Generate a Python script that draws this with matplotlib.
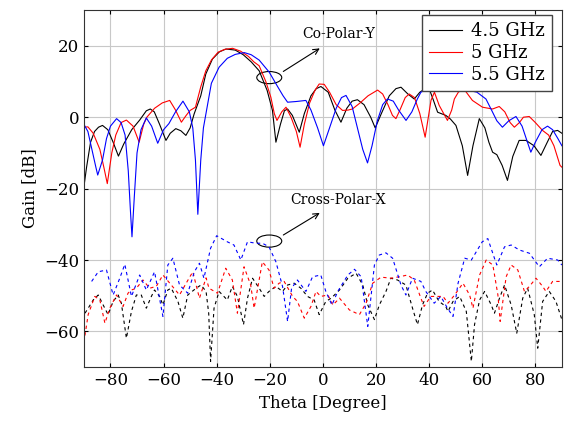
import matplotlib.pyplot as plt
from matplotlib.patches import Ellipse

# co-polar (solid) curves
theta_co_45 = [-90, -89, -87.5, -86, -84.5, -83, -81, -79, -77, -75, -72, -69, -66.5, -65, -63.5,
               -61.5, -59.1, -57.5, -55.4, -53.5, -51.6, -50, -48.5, -46, -44.1, -41.6, -39, -36.5,
               -33, -30, -27, -24, -21, -19, -17.7, -16, -14.5, -13.3, -11.5, -8.9, -7, -4.5, -2.5,
               -0.75, 2, 4.5, 6.8, 9, 11, 13, 15.5, 18, 19.7, 22, 25, 27.5, 29.4, 32, 34.4, 36.5,
               38.5, 40, 41.5, 43.2, 46.3, 48, 50.1, 52.5, 54.5, 56.5, 58.9, 61, 62.5, 63.9, 65.5,
               67.5, 69.5, 71.5, 73.9, 76.5, 79.5, 82.1, 84.5, 86.5, 88.4, 90]
gain_co_45 = [-19.5, -14, -7, -4, -2.8, -2.3, -3.5, -7, -10.9, -7.5, -3.5, -0.8, 1.8, 2.3, 1.5,
              -2, -6.5, -4.5, -3.2, -3.8, -5.1, -3, 0.9, 6, 12.1, 16.3, 18.3, 19.1,
              18.8, 17.5, 15.5, 13, 7.5, 1.9, -7.0, -2, 1.8, 2.3, 0.5, -4.2, 1, 6, 8,
              8.6, 7, 2, -1.4, 2.5, 4.5, 4.9, 3.5, 0, -3.0, 1, 6, 8, 8.4, 6.5, 5.1, 7,
              8, 8, 5, 1.4, 0.5, -0.5, -2.3, -8, -16.3, -8, -0.4, -3, -7, -9.8, -10.5,
              -13.5, -17.7, -11, -6.5, -6.5, -8, -10.7, -7, -4, -3.7, -4.5]

theta_co_5 = [-90, -88.5, -86.5, -84, -82.5, -81.2, -79.5, -78, -76, -74, -71.5, -69.2, -67.5,
              -66.3, -63.4, -60.5, -57.7, -55.5, -53.3, -51.5, -50, -48, -46, -44.1, -42, -39.5,
              -37, -34, -31, -28, -26, -24, -21.5, -19.6, -18.3, -17.3, -15.5, -13.9, -12, -10,
              -8.6, -7, -5, -3, -1.4, 0.5, 2.5, 5, 7.4, 9.5, 11.1, 14, 17, 20.6, 22.5, 24.5,
              26.2, 27.5, 29, 31, 32.5, 34.5, 36.5, 38.5, 39.7, 40.7, 42, 43.8, 46.9, 48.5,
              49.5, 51, 53, 56.3, 60.1, 63.9, 66.4, 68.5, 70.5, 72.1, 74, 75.5, 77.7, 80, 82.7,
              85, 87, 89.3, 90]
gain_co_5 = [-2.8, -2.7, -4.5, -9, -14, -18.6, -10, -5, -1.5, -0.8, -2.5, -7.0, -2,
             0, 2.5, 4, 4.7, 2, -1.4, 0.5, 1.9, 2.8, 8.5, 13.0, 16, 18.2,
             19, 19.3, 18.5, 17, 15.5, 14.4, 10, 5.6, 1, -0.9, 1.5, 2.8, 0, -4,
             -8.4, -2, 4, 7.5, 9.3, 9.2, 7, 3.5, 1.9, 2, 2.3, 4, 6, 7.6, 6.5, 3.5,
             0.5, -0.4, 2, 5.5, 6.5, 5.5, 1, -5.6, 0, 4.7, 7, 3.3, -0.9, 2,
             5.1, 7, 8, 4.7, 2.8, 2.3, 3.0, 1.5, -1.5, -2.8, -1.5, 0, 0.2, -1.5, -3.7,
             -5, -8, -13.5, -14]

theta_co_55 = [-90, -88.5, -87, -85.5, -84.8, -83, -81.5, -80, -77.7, -76, -74.5, -73.3, -72.5,
               -71.9, -71, -70, -68.5, -66.5, -64.5, -62.2, -60, -58, -55.5, -52.7, -50.3, -49,
               -48, -47.1, -46, -45, -43.8, -42, -39.1, -36, -33, -29.6, -27, -24, -20.2, -17,
               -15, -13.3, -10, -6.4, -4.5, -2, 0.2, 2.5, 5, 7, 8.7, 11, 13, 15, 16.8, 18.5,
               20.5, 22.5, 24.3, 26.5, 28.5, 31.3, 33.5, 35.5, 36.9, 40, 45, 50, 55, 58, 61.4,
               63.5, 65.5, 67.6, 70, 72.7, 75, 76.8, 78.3, 80, 82.5, 84.6, 86.5, 88.5, 90]
gain_co_55 = [-2.0, -4, -9, -14, -16.2, -12, -6, -2.5, -0.4, -1.5, -5, -15, -26,
              -33.5, -22, -10, -3.5, -0.2, -2.5, -7.3, -3.5, -1.8, 1.5, 4.5, 1.5, -3,
              -12, -27.2, -12, -3, 2, 9.5, 14, 16.5, 17.6, 18.1, 17.5, 16, 12.6, 8.5,
              6, 4.2, 4.4, 4.7, 2, -3, -8.0, -3, 2.5, 5.5, 6.1, 3, -3, -9, -12.8, -8,
              -1, 3.5, 5.1, 4.5, 2, -0.9, 1.5, 5, 7.0, 8, 8, 8, 7.5, 7, 5.1,
              2, -1, -2.8, -1, 0.2, -2.5, -6.5, -9.8, -7, -3.5, -2.5, -3.5, -6, -8]

# cross-polar (dashed) curves
theta_x_45 = [-89.6, -88.4, -86.5, -84.6, -82.75, -80.9, -79, -77.1, -75.9, -74, -72.1, -70.25,
              -68.4, -66.5, -64.6, -63.4, -61.5, -60.25, -58.4, -57.1, -54.6, -52.75, -50.9,
              -47.75, -45.9, -44, -43, -42.3, -41, -39.1, -36, -34.1, -32.2, -29.9, -28.4,
              -26.5, -24, -22.1, -20.3, -17.7, -15.2, -13.3, -10.8, -8.3, -5.8, -3.3, -1.4,
              1.1, 3.1, 6.25, 9.4, 12.5, 15, 16.9, 19.4, 21.25, 23.75, 25.6, 28.1, 31.25,
              33.75, 35.6, 37.5, 39.4, 41.25, 43.75, 46.25, 47.1, 49, 51.5, 54, 55.9, 57.1,
              59, 60.9, 63.4, 64.6, 66.5, 68.4, 70.9, 73, 75.25, 77.1, 79.6, 80.9, 82.75,
              85.25, 87.75, 90]
gain_x_45 = [-54.9, -53.5, -51.2, -49.8, -52.6, -55.3, -51.6, -49.8, -52.1, -61.9, -54.4, -49.8,
             -49.8, -53.5, -50.2, -48.4, -50.2, -52.6, -48.4, -47.9, -51.6, -56.3, -49.8,
             -47.9, -47, -48.8, -55, -68.4, -53.5, -48.8, -51.2, -47.4, -50.2, -58.1, -50.7,
             -45.1, -47.9, -50.2, -48.8, -47.4, -48.8, -47, -46.5, -47.9, -50.2, -51.2, -55.3,
             -51.6, -50.7, -48.4, -45.1, -43.7, -47, -52.6, -56.7, -52.6, -48.8, -45.1, -45.6,
             -47, -53.5, -58.1, -52.6, -49.3, -48.4, -51.6, -53, -54.4, -51.6, -50.2, -54.4,
             -68.4, -58.1, -51.2, -48.8, -52.6, -54.9, -50.7, -47, -52.6, -60.5, -50.7, -47.9,
             -55.3, -64.7, -51.6, -48.8, -51.6, -56.7]

theta_x_5 = [-90, -88.4, -85.9, -84, -82.1, -80.25, -77.75, -75.25, -73.4, -72.1, -70.25,
             -67.75, -65.25, -62.75, -60.25, -57.1, -54, -51.5, -49, -46.5, -44, -42.9, -39.7,
             -36.6, -34.1, -32.2, -29.7, -27.2, -25.9, -22.8, -20.3, -18.4, -16.5, -14.6,
             -11.4, -9.6, -7, -4.5, -2.6, -0.8, 1.9, 3.75, 6.25, 10, 13.75, 16.25, 18.75,
             21.9, 25.6, 28.75, 31.9, 34.4, 36.9, 38.1, 40.6, 43.75, 45.25, 47.1, 49.6, 52.75,
             55.25, 56.5, 59, 61.5, 64, 65.9, 66.75, 69, 70.9, 73.4, 75.9, 77.75, 80.25,
             82.75, 84, 86.5, 90]
gain_x_5 = [-63, -55.3, -50.2, -51.2, -57.7, -53.5, -49.8, -53, -49.3, -48.4, -47.9,
            -45.6, -47.9, -47.4, -44.2, -47, -49.8, -46.5, -43.3, -50.7, -45, -47.9, -49.3,
            -42.3, -45.6, -54.9, -41.9, -47, -53.5, -40.5, -42.8, -47.9, -46.5, -46,
            -50.2, -51.6, -56.3, -53, -48.8, -50.2, -49.8, -52.6, -50.7, -54, -55.3, -52.1,
            -46.5, -44.8, -45.1, -44.7, -44.2, -45.6, -50.7, -53, -50.2, -50.2, -50.2, -52.1,
            -49.8, -46.5, -49.8, -53.5, -44.2, -40, -41.4, -49.8, -57.2, -44.7, -41.4, -42.8,
            -48.8, -47.4, -45.1, -47.4, -48.8, -46, -46]

theta_x_55 = [-87.1, -84.6, -81.5, -79, -76.5, -74.6, -72.1, -69, -66.5, -63.4, -60.25, -58.4,
              -56.5, -54, -50.9, -48.4, -46.5, -44.8, -42.3, -40, -36, -33.5, -30.9, -28.4,
              -25.3, -22.8, -20.3, -17.7, -15.2, -13.3, -11.8, -9.6, -6.4, -3.9, -0.8, 1.1,
              3.4, 5.6, 9.4, 11.9, 14.4, 16.9, 19.4, 21.25, 23.75, 26.25, 29.4, 31.25, 33.75,
              36.9, 38.75, 41.9, 44.4, 46.9, 49, 50.9, 53.4, 55.9, 57.75, 60, 62.1, 64.6, 65.5,
              68.4, 70.9, 74, 77.75, 81.5, 84.6, 88.4, 90]
gain_x_55 = [-46.0, -43.3, -42.8, -49.8, -45.1, -41.2, -50.2, -44.2, -48.4, -43.3, -55.8, -41.4,
             -39.5, -47, -49.3, -43.3, -40.9, -45.1, -36.7, -33.2, -34.9, -35.8, -40, -34.9,
             -35.3, -35.3, -36.3, -40.5, -47.4, -57.2, -47.9, -45.6, -48.8, -44.7, -44.2, -48.8,
             -52.6, -48.8, -44.2, -42.6, -44.7, -58.6, -41.4, -38.6, -38, -39.5, -47, -49.8,
             -45.1, -46, -48.8, -52.1, -50.2, -53.5, -55.8, -46.5, -39.5, -40, -37.7, -34.9,
             -34, -39.5, -41.4, -36.3, -35.8, -37.2, -38.1, -41.9, -39.5, -40, -41.4]

labels = ['4.5 GHz', '5 GHz', '5.5 GHz']
colors = ['black', 'red', 'blue']

plt.rcParams['font.family'] = 'DejaVu Serif'

fig = plt.figure(figsize=(5.67, 4.21), dpi=100)
ax = fig.add_axes([0.148, 0.128, 0.843, 0.848])

co = [(theta_co_45, gain_co_45), (theta_co_5, gain_co_5), (theta_co_55, gain_co_55)]
cx = [(theta_x_45, gain_x_45), (theta_x_5, gain_x_5), (theta_x_55, gain_x_55)]
for (t, g), lab, c in zip(co, labels, colors):
    ax.plot(t, g, color=c, linewidth=0.8, label=lab)
for (t, g), c in zip(cx, colors):
    ax.plot(t, g, color=c, linewidth=0.8, dashes=(3, 3))

# annotations
ax.add_patch(Ellipse((-20.2, 11.1), 9.4, 3.4, fill=False, edgecolor='black', linewidth=0.8))
ax.annotate('', xy=(-0.3, 19.7), xytext=(-15.8, 12.4),
            arrowprops=dict(arrowstyle='->', color='black', linewidth=0.8))
ax.text(5.8, 23.2, 'Co-Polar-Y', fontsize=10, ha='center', va='center')

ax.add_patch(Ellipse((-20.2, -34.7), 9.4, 3.4, fill=False, edgecolor='black', linewidth=0.8))
ax.annotate('', xy=(-0.3, -26.4), xytext=(-15.8, -33.4),
            arrowprops=dict(arrowstyle='->', color='black', linewidth=0.8))
ax.text(5.8, -23.2, 'Cross-Polar-X', fontsize=10, ha='center', va='center')

ax.set_xlim(-90, 90)
ax.set_ylim(-70, 30)
ax.set_xticks(range(-80, 81, 20))
ax.set_yticks(range(-60, 21, 20))
ax.grid(True, color='#c8c8c8', linewidth=0.8)
ax.set_axisbelow(True)
ax.tick_params(direction='in', top=True, right=True, length=3, labelsize=12)
ax.set_xlabel('Theta [Degree]', fontsize=12)
ax.set_ylabel('Gain [dB]', fontsize=12)
for s in ax.spines.values():
    s.set_color('#333333')

leg = ax.legend(loc='upper right', bbox_to_anchor=(0.979, 0.986), borderaxespad=0,
                fontsize=13, fancybox=False, framealpha=1, edgecolor='#444444',
                handlelength=1.8, handletextpad=0.5, labelspacing=0.2, borderpad=0.4)

fig.savefig('out.png', dpi=100)
